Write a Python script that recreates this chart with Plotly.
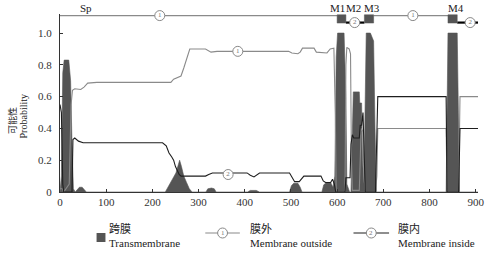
import plotly.graph_objects as go

# ---------------- data ----------------
x_ticks = [0, 100, 200, 300, 400, 500, 600, 700, 800, 900]
y_ticks = [0, 0.2, 0.4, 0.6, 0.8, 1.0]
y_ticktext = ["0", "0.2", "0.4", "0.6", "0.8", "1.0"]

# transmembrane probability
tm_x = [0, 3, 6, 9, 19, 23, 26, 29, 33, 38,
        42, 48, 53, 57, 228, 236, 244, 251, 256, 259,
        263, 268, 274, 280, 286, 316, 320, 328, 334, 338,
        406, 412, 425, 432, 497, 501, 506, 515, 520, 524,
        567, 571, 577, 586, 591, 595, 598, 601, 615, 619,
        621, 627, 630, 633, 635, 648, 649, 653, 655, 658,
        660, 663, 672, 679, 682, 685, 836, 838, 840, 860,
        862, 865, 905]
tm_y = [0, 0.1, 0.75, 0.83, 0.83, 0.7, 0.3, 0.02, 0, 0.02,
        0.03, 0.03, 0.01, 0, 0, 0.04, 0.08, 0.12, 0.17, 0.2,
        0.16, 0.1, 0.06, 0.02, 0, 0, 0.02, 0.025, 0.02, 0,
        0, 0.01, 0.01, 0, 0, 0.04, 0.055, 0.055, 0.03, 0,
        0, 0.045, 0.06, 0.06, 0.03, 0.1, 0.85, 1.0, 1.0, 0.6,
        0.05, 0, 0, 0.5, 0.63, 0.63, 0.56, 0.56, 0.2, 0.05,
        0.6, 1.0, 1.0, 0.95, 0.4, 0, 0, 0.8, 1.0, 1.0,
        0.6, 0, 0]

# membrane outside probability
out_x = [0, 5, 8, 20, 24, 27, 32, 45, 52, 60,
         80, 240, 246, 255, 262, 268, 275, 281, 315, 320,
         327, 340, 495, 502, 515, 520, 525, 550, 555, 578,
         585, 593, 596, 598, 617, 619, 621, 626, 629, 631,
         633, 648, 650, 652, 656, 658, 661, 683, 686, 688,
         836, 838, 863, 866, 905]
out_y = [0.02, 0.02, 0, 0.05, 0.55, 0.64, 0.65, 0.645, 0.66, 0.685,
         0.69, 0.69, 0.71, 0.72, 0.73, 0.78, 0.85, 0.9, 0.9, 0.89,
         0.88, 0.885, 0.885, 0.875, 0.87, 0.88, 0.905, 0.905, 0.88, 0.875,
         0.9, 0.905, 0.5, 0, 0, 0.8, 0.91, 0.9, 0.87, 0.2,
         0.01, 0.01, 0.3, 0.4, 0.38, 0.1, 0, 0, 0.1, 0.4,
         0.4, 0, 0, 0.6, 0.6]

# membrane inside probability
in_x = [0, 3, 6, 8, 26, 28, 32, 40, 50, 222,
        230, 236, 242, 246, 250, 254, 258, 262, 315, 322,
        330, 405, 412, 420, 428, 432, 497, 503, 508, 518,
        524, 528, 565, 570, 575, 586, 590, 594, 597, 617,
        619, 628, 630, 633, 636, 648, 650, 653, 656, 658,
        661, 683, 686, 688, 836, 838, 863, 866, 905]
in_y = [0.55, 0.5, 0.05, 0, 0, 0.33, 0.34, 0.32, 0.31, 0.31,
        0.29, 0.245, 0.22, 0.2, 0.16, 0.13, 0.11, 0.1, 0.1, 0.11,
        0.12, 0.12, 0.105, 0.095, 0.11, 0.12, 0.12, 0.09, 0.065, 0.065,
        0.09, 0.1, 0.1, 0.07, 0.06, 0.06, 0.08, 0.05, 0, 0,
        0.09, 0.09, 0.3, 0.36, 0.34, 0.34, 0.42, 0.42, 0.5, 0.3,
        0, 0, 0.3, 0.6, 0.6, 0, 0, 0.4, 0.4]

# marker positions on curves
out_mark_x = [385]
out_mark_y = [0.885]
in_mark_x = [364]
in_mark_y = [0.11]

# predicted topology (top bar)
topo_out_segments = [(0, 600), (679, 840)]
topo_in_segments = [(619, 659), (860, 905)]
topo_tm_segments = [(600, 619), (659, 679), (840, 860)]
topo_out_marks = [216, 764]
topo_in_marks = [638, 888]
topo_labels = ["Sp", "M1", "M2", "M3", "M4"]
topo_label_x = [56, 600, 636, 675, 857]

TOPO_OUT_Y = 1.11
TOPO_IN_Y = 1.066

# ---------------- style ----------------
C_TM = "#555555"
C_OUT = "#8a8a8a"
C_IN = "#1e1e1e"
SERIF = "Liberation Serif"
CJK = "Noto Sans CJK SC"

fig = go.Figure()

fig.add_trace(go.Scatter(x=tm_x, y=tm_y, mode="lines", fill="tozeroy",
                         fillcolor=C_TM, line=dict(color=C_TM, width=0.6),
                         showlegend=False, hoverinfo="skip"))
fig.add_trace(go.Scatter(x=out_x, y=out_y, mode="lines",
                         line=dict(color=C_OUT, width=1.1),
                         showlegend=False, hoverinfo="skip"))
fig.add_trace(go.Scatter(x=in_x, y=in_y, mode="lines",
                         line=dict(color=C_IN, width=1.1),
                         showlegend=False, hoverinfo="skip"))

# topology bar lines
ox, oy = [], []
for a, b in topo_out_segments:
    ox += [a, b, None]
    oy += [TOPO_OUT_Y, TOPO_OUT_Y, None]
fig.add_trace(go.Scatter(x=ox, y=oy, mode="lines", line=dict(color=C_OUT, width=1.2),
                         showlegend=False, hoverinfo="skip"))
ix, iy = [], []
for a, b in topo_in_segments:
    ix += [a, b, None]
    iy += [TOPO_IN_Y, TOPO_IN_Y, None]
fig.add_trace(go.Scatter(x=ix, y=iy, mode="lines", line=dict(color="#000000", width=2.2),
                         showlegend=False, hoverinfo="skip"))
bx, by = [], []
for a, b in topo_tm_segments:
    bx += [a, b, b, a, a, None]
    by += [TOPO_IN_Y - 0.003, TOPO_IN_Y - 0.003, TOPO_OUT_Y + 0.005, TOPO_OUT_Y + 0.005, TOPO_IN_Y - 0.003, None]
fig.add_trace(go.Scatter(x=bx, y=by, mode="lines", fill="toself", fillcolor=C_TM,
                         line=dict(color=C_TM, width=0.5),
                         showlegend=False, hoverinfo="skip"))

def circ_marks(xs, ys, label):
    return go.Scatter(x=xs, y=ys, mode="markers+text", text=[label] * len(xs),
                      textposition="middle center",
                      textfont=dict(size=7, color="#777777", family=SERIF),
                      marker=dict(symbol="circle", size=10, color="white",
                                  line=dict(color="#888888", width=1)),
                      showlegend=False, hoverinfo="skip", cliponaxis=False)

fig.add_trace(circ_marks(out_mark_x, out_mark_y, "1"))
fig.add_trace(circ_marks(in_mark_x, in_mark_y, "2"))
fig.add_trace(circ_marks(topo_out_marks, [TOPO_OUT_Y] * len(topo_out_marks), "1"))
fig.add_trace(circ_marks(topo_in_marks, [TOPO_IN_Y] * len(topo_in_marks), "2"))

# ---------------- layout ----------------
W, H = 496, 257
L, R, T, B = 60, 13, 14, 65
PW, PH = W - L - R, H - T - B

def px2x(px):
    return (px - L) / PW

def py2y(py):
    return (H - B - py) / PH

annotations = []
for lab, xv in zip(topo_labels, topo_label_x):
    annotations.append(dict(x=xv, y=py2y(8), xref="x", yref="paper", text=lab,
                            showarrow=False, font=dict(family=SERIF, size=11, color="#222"),
                            xanchor="center", yanchor="middle"))

# y-axis title (two lines, rotated)
annotations.append(dict(x=px2x(11.5), y=py2y(121), xref="paper", yref="paper", text="可能性",
                        textangle=-90, showarrow=False,
                        font=dict(family=CJK, size=9, color="#222"),
                        xanchor="center", yanchor="middle"))
annotations.append(dict(x=px2x(23), y=py2y(116), xref="paper", yref="paper", text="Probability",
                        textangle=-90, showarrow=False,
                        font=dict(family=SERIF, size=10, color="#222"),
                        xanchor="center", yanchor="middle"))

# legend (drawn manually)
shapes = []
shapes.append(dict(type="rect", xref="paper", yref="paper",
                   x0=px2x(97), x1=px2x(106), y0=py2y(242), y1=py2y(233),
                   fillcolor=C_TM, line=dict(width=0)))
leg_items = [
    (108, "跨膜", "Transmembrane"),
    (250, "膜外", "Membrane outside"),
    (400, "膜内", "Membrane inside"),
]
for lx, zh, en in leg_items:
    annotations.append(dict(x=px2x(lx), y=py2y(228), xref="paper", yref="paper", text=zh,
                            showarrow=False, font=dict(family=CJK, size=11, color="#222"),
                            xanchor="left", yanchor="middle"))
    annotations.append(dict(x=px2x(lx), y=py2y(243), xref="paper", yref="paper", text=en,
                            showarrow=False, font=dict(family=SERIF, size=11, color="#222"),
                            xanchor="left", yanchor="middle"))

for (x0, x1, cx, col, lab) in [(207, 242, 224.5, C_OUT, "1"), (357, 393, 375, C_IN, "2")]:
    shapes.append(dict(type="line", xref="paper", yref="paper",
                       x0=px2x(x0), x1=px2x(x1), y0=py2y(233), y1=py2y(233),
                       line=dict(color=col, width=1.1)))
    shapes.append(dict(type="circle", xref="paper", yref="paper",
                       x0=px2x(cx - 5), x1=px2x(cx + 5), y0=py2y(238), y1=py2y(228),
                       fillcolor="white", line=dict(color="#888888", width=1)))
    annotations.append(dict(x=px2x(cx), y=py2y(233), xref="paper", yref="paper", text=lab,
                            showarrow=False, font=dict(family=SERIF, size=7, color="#777"),
                            xanchor="center", yanchor="middle"))

fig.update_layout(
    width=W, height=H, autosize=False,
    margin=dict(l=L, r=R, t=T, b=B, pad=0),
    plot_bgcolor="white", paper_bgcolor="white",
    showlegend=False,
    annotations=annotations, shapes=shapes,
    xaxis=dict(range=[0, 905], tickvals=x_ticks, ticks="inside", ticklen=3,
               tickcolor="#333", showline=True, linecolor="#333", linewidth=1,
               showgrid=False, zeroline=False,
               tickfont=dict(family=SERIF, size=11, color="#333")),
    yaxis=dict(range=[0, 1.12], tickvals=y_ticks, ticktext=y_ticktext,
               ticks="inside", ticklen=3, tickcolor="#333",
               showline=True, linecolor="#333", linewidth=1,
               showgrid=False, zeroline=False, ticklabelstandoff=5,
               tickfont=dict(family=SERIF, size=11, color="#333")),
)

# remove the browser's default 8px page margin so the figure fills the window
fig.write_html("out.html", config={"displayModeBar": False},
               post_script="document.body.style.margin='0';")
